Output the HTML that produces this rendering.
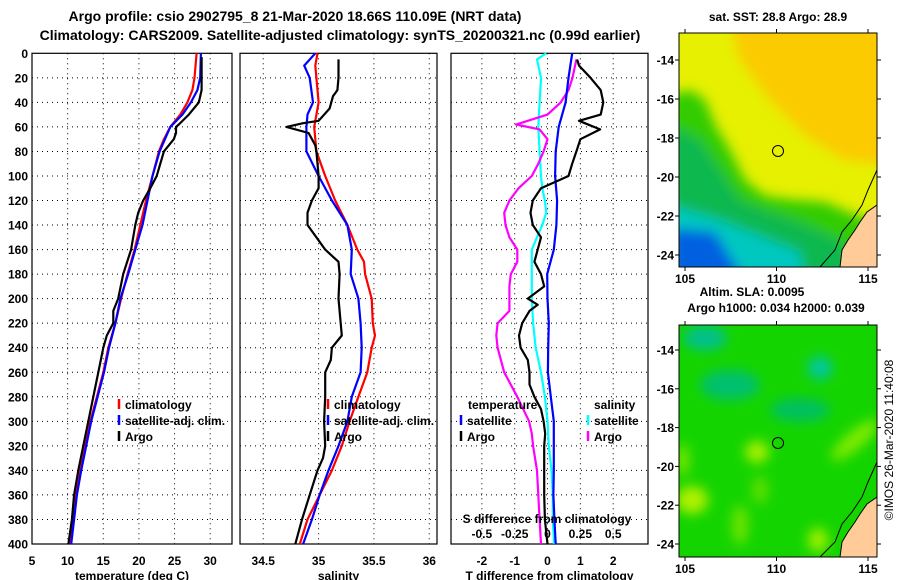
<!DOCTYPE html>
<html><head><meta charset="utf-8"><style>
body{margin:0;background:#fff;}
svg{display:block;font-family:"Liberation Sans",sans-serif;font-weight:bold;}
</style></head><body>
<svg id="fig" width="900" height="580" viewBox="0 0 900 580">
<defs>
<filter id="blur" x="-20%" y="-20%" width="140%" height="140%"><feGaussianBlur stdDeviation="6"/></filter>
<clipPath id="clipTop"><rect x="679" y="33" width="198" height="234"/></clipPath>
<clipPath id="clipBot"><rect x="679" y="325" width="198" height="232"/></clipPath>
</defs>
<text x="295" y="21" font-size="14" text-anchor="middle">Argo profile: csio 2902795_8 21-Mar-2020 18.66S 110.09E (NRT data)</text>
<text x="340" y="40" font-size="14" text-anchor="middle">Climatology: CARS2009. Satellite-adjusted climatology: synTS_20200321.nc (0.99d earlier)</text>
<g id="charts"></g>

<!-- top map -->
<g>
<text x="778" y="21" font-size="12" text-anchor="middle">sat. SST: 28.8 Argo: 28.9</text>
<g clip-path="url(#clipTop)">
<rect x="679" y="33" width="198" height="234" fill="#e6f000"/>
<g filter="url(#blur)">
<polygon points="730,20 890,20 890,165 845,160 805,135 770,100 740,60" fill="#ffc400" opacity="0.85"/>
<polygon points="670,95 690,90 705,100 715,125 730,150 745,180 765,196 795,200 825,202 855,215 890,225 890,280 670,280" fill="#30cc00"/>
<polygon points="670,125 700,140 720,170 740,200 770,212 800,222 840,240 860,280 670,280" fill="#10b850"/>
<polygon points="670,205 720,220 765,238 800,252 805,280 670,280" fill="#00c8c0"/>
<polygon points="670,228 715,232 745,280 670,280" fill="#0060e0"/>
</g>
<polygon points="877,205 867,212 860,222 855,230 848,240 842,250 840,267 877,267" fill="#ffcc99" stroke="#000" stroke-width="1"/>
<polyline points="877,170 868,190 862,205 852,220 842,232 835,250 820,267" fill="none" stroke="#000" stroke-width="1"/>
<circle cx="778" cy="151" r="5.5" fill="none" stroke="#000" stroke-width="1"/>
</g>
<rect x="679" y="33" width="198" height="234" fill="none" stroke="#000"/>
</g>

<!-- bottom map -->
<g>
<text x="752" y="296" font-size="12" text-anchor="middle">Altim. SLA: 0.0095</text>
<text x="776" y="312" font-size="12" text-anchor="middle">Argo h1000: 0.034 h2000: 0.039</text>
<g clip-path="url(#clipBot)">
<rect x="679" y="325" width="198" height="232" fill="#14d400"/>
<g filter="url(#blur)">
<ellipse cx="705" cy="338" rx="22" ry="12" fill="#00c090"/>
<ellipse cx="820" cy="368" rx="12" ry="12" fill="#00c8a0"/>
<ellipse cx="730" cy="385" rx="30" ry="15" fill="#00c070"/>
<ellipse cx="800" cy="410" rx="30" ry="12" fill="#00c060"/>
<ellipse cx="692" cy="500" rx="16" ry="14" fill="#b0f000"/>
<ellipse cx="757" cy="452" rx="12" ry="11" fill="#a8f000"/>
<ellipse cx="855" cy="440" rx="30" ry="9" fill="#80ea00" transform="rotate(-40 855 440)"/>
<ellipse cx="818" cy="540" rx="10" ry="12" fill="#a0f000"/>
<ellipse cx="740" cy="525" rx="8" ry="20" fill="#70e400"/>
<ellipse cx="760" cy="490" rx="8" ry="14" fill="#60e000"/>
<ellipse cx="683" cy="460" rx="6" ry="16" fill="#80e800"/>
</g>
<polygon points="877,497 867,504 860,514 855,522 848,532 842,542 840,557 877,557" fill="#ffcc99" stroke="#000" stroke-width="1"/>
<polyline points="877,462 868,482 862,497 852,512 842,524 835,542 820,557" fill="none" stroke="#000" stroke-width="1"/>
<circle cx="778" cy="443" r="5.5" fill="none" stroke="#000" stroke-width="1"/>
</g>
<rect x="679" y="325" width="198" height="232" fill="none" stroke="#000"/>
</g>
<g id="maptix"></g>
<text x="893" y="440" font-size="12" font-weight="normal" text-anchor="middle" transform="rotate(-90 893 440)">©IMOS 26-Mar-2020 11:40:08</text>
</svg>
<script>
// ---- data ----
const depthTicks = [0,20,40,60,80,100,120,140,160,180,200,220,240,260,280,300,320,340,360,380,400];
const tempTicks = [5,10,15,20,25,30];
const salTicks = [34.5,35,35.5,36];
const tdiffTicks = [-2,-1,0,1,2];
const sdiffTickLabels = ["-0.5","-0.25","0","0.25","0.5"];
const sdiffTickValues = [-0.5,-0.25,0,0.25,0.5];

const tClimDepth = [0,20,30,40,50,60,70,80,100,120,140,160,180,200,220,240,260,280,300,320,340,360,380,400];
const tClimVal   = [28.1,27.8,27.5,26.8,25.8,24.4,23.5,22.8,21.9,21.0,20.2,19.4,18.4,17.5,16.7,15.7,15.0,14.1,13.2,12.5,11.8,11.2,10.8,10.4];
const tSatDepth  = [0,20,30,40,50,60,80,100,120,140,160,180,200,220,240,260,280,300,320,340,360,380,400];
const tSatVal    = [28.7,28.6,28.2,27.3,26.1,24.4,22.9,21.9,21.2,20.5,19.5,18.5,17.4,16.7,15.8,15.1,14.2,13.3,12.6,11.9,11.3,10.9,10.5];
const tArgoDepth = [3,20,30,40,50,58,60,65,70,80,90,100,110,120,130,140,160,180,200,210,220,230,240,260,280,300,320,340,360,380,400];
const tArgoVal   = [28.8,28.8,28.8,28.4,27.0,25.6,25.2,25.2,24.9,23.5,23.0,22.5,21.6,20.6,19.9,19.5,18.9,17.8,17.1,16.4,16.4,15.5,15.0,14.3,13.6,12.9,12.2,11.5,10.9,10.6,10.1];

const sClimDepth = [0,10,40,60,80,100,120,140,160,170,180,200,220,230,240,260,280,300,320,340,360,380,400];
const sClimVal   = [34.99,34.97,35.0,34.96,34.98,35.06,35.15,35.26,35.35,35.41,35.42,35.48,35.49,35.51,35.48,35.44,35.36,35.28,35.21,35.12,35.01,34.9,34.83];
const sSatDepth  = [0,10,20,40,50,60,80,100,120,140,160,180,200,220,240,260,280,300,320,340,360,380,400];
const sSatVal    = [34.97,34.87,34.92,34.95,34.9,34.89,34.89,35.0,35.12,35.26,35.3,35.29,35.36,35.38,35.39,35.38,35.3,35.26,35.18,35.09,35.01,34.94,34.86];
const sArgoDepth = [5,20,30,35,45,55,57,60,65,75,80,100,110,120,130,140,150,160,170,180,200,220,230,240,250,260,280,300,320,330,340,360,380,400];
const sArgoVal   = [35.18,35.18,35.17,35.13,35.1,35.0,34.86,34.71,34.91,34.97,34.98,35.0,35.0,34.94,34.9,34.9,34.98,35.06,35.18,35.19,35.18,35.2,35.21,35.12,35.11,35.06,35.06,35.05,35.06,35.04,34.99,34.92,34.85,34.79];

const dtSatDepth = [0,20,40,60,80,100,120,140,160,180,200,220,240,260,280,300,320,340,360,380,400];
const dtSatVal   = [0.75,0.64,0.55,0.34,0.25,0.23,0.29,0.27,0.19,-0.01,0.0,0.04,0.02,0.01,0.1,0.19,0.19,0.19,0.18,0.21,0.25];
const dtArgoDepth = [5,10,20,30,40,50,55,62,70,80,90,100,110,120,130,140,150,160,170,180,190,200,205,210,220,230,240,250,260,270,280,290,300,310,320,340,360,380,400];
const dtArgoVal   = [0.9,0.96,1.31,1.62,1.7,1.62,0.96,1.6,1.0,0.88,0.75,0.64,-0.2,-0.45,-0.52,-0.45,-0.2,-0.3,-0.4,-0.2,-0.1,-0.6,-0.3,-0.55,-0.77,-0.87,-0.82,-0.6,-0.55,-0.55,-0.4,-0.2,-0.12,-0.07,-0.1,-0.1,-0.1,-0.08,0.0];
const dsSatDepth = [0,5,20,40,60,80,100,110,120,130,140,150,160,180,200,220,240,260,280,300,320,340,360,380,400];
const dsSatVal   = [-0.01,-0.08,-0.05,-0.06,-0.07,-0.06,-0.05,-0.04,-0.02,-0.01,-0.04,-0.08,-0.12,-0.12,-0.12,-0.11,-0.09,-0.05,-0.02,0.0,0.01,0.03,0.04,0.04,0.05];
const dsArgoDepth = [5,20,30,40,50,55,58,62,70,80,90,100,110,120,130,140,150,160,170,180,190,200,210,220,230,240,260,280,300,310,320,340,360,380,400];
const dsArgoVal   = [0.22,0.19,0.16,0.1,0.0,-0.15,-0.24,-0.06,0.0,-0.03,-0.07,-0.12,-0.22,-0.29,-0.33,-0.32,-0.29,-0.23,-0.23,-0.28,-0.29,-0.29,-0.29,-0.38,-0.39,-0.38,-0.33,-0.23,-0.14,-0.12,-0.11,-0.08,-0.07,-0.06,-0.05];

// ---- axes ----
const NS='http://www.w3.org/2000/svg';
const root=document.getElementById('charts');
const Y0=53.3, Y1=544, DMAX=400;
const yD=d=>Y0+d*(Y1-Y0)/DMAX;
function mk(tag,attrs,parent){const e=document.createElementNS(NS,tag);for(const k in attrs)e.setAttribute(k,attrs[k]);(parent||root).appendChild(e);return e;}
const panels=[
 {name:'temperature-panel',x0:32,x1:232,v0:5,v1:33.06,ticks:tempTicks,title:'temperature (deg C)'},
 {name:'salinity-panel',x0:240,x1:437,v0:34.29,v1:36.07,ticks:salTicks,title:'salinity'},
 {name:'difference-panel',x0:451,x1:648,v0:-2.94,v1:3.06,ticks:tdiffTicks,title:'T difference from climatology'}
];
panels.forEach(p=>{p.x=v=>p.x0+(v-p.v0)*(p.x1-p.x0)/(p.v1-p.v0);});
panels.forEach((p,i)=>{
 const g=mk('g',{});
 
 
 depthTicks.forEach(d=>{
  if(d>0&&d<400){const l=mk('line',{x1:p.x0,x2:p.x1,y1:yD(d),y2:yD(d),stroke:'#000','stroke-width':1,'stroke-dasharray':'1 4'},g);
   
   }
 });
 p.ticks.forEach(v=>{
  const x=p.x(v);
  const l=mk('line',{x1:x,x2:x,y1:Y0,y2:Y1,stroke:'#000','stroke-width':1,'stroke-dasharray':'1 4'},g);
  
  
  const t=mk('text',{x:x,y:565,'font-size':12,'text-anchor':'middle'},g);
  t.textContent=String(v);
  
  
 });
 const r=mk('rect',{x:p.x0,y:Y0,width:p.x1-p.x0,height:Y1-Y0,fill:'none',stroke:'#000','stroke-width':1.2},g);
 
 
 const tt=mk('text',{x:(p.x0+p.x1)/2,y:580,'font-size':12,'text-anchor':'middle'},g);
 tt.textContent=p.title;
 
 
});
depthTicks.forEach(d=>{
 const t=mk('text',{x:28,y:yD(d)+4.5,'font-size':12,'text-anchor':'end'});
 t.textContent=String(d);
 
 
});
function series(p,depths,vals,color,name,scale){
 const pts=depths.map((d,i)=>p.x(vals[i]*(scale||1)).toFixed(1)+','+yD(d).toFixed(1)).join(' ');
 const l=mk('polyline',{points:pts,fill:'none',stroke:color,'stroke-width':2.2,'stroke-linejoin':'round'});
 
 
}
const [P1,P2,P3]=panels;
series(P1,tClimDepth,tClimVal,'#f00','temp-climatology-line');
series(P1,tSatDepth,tSatVal,'#00f','temp-satellite-line');
series(P1,tArgoDepth,tArgoVal,'#000','temp-argo-line');
series(P2,sClimDepth,sClimVal,'#f00','sal-climatology-line');
series(P2,sSatDepth,sSatVal,'#00f','sal-satellite-line');
series(P2,sArgoDepth,sArgoVal,'#000','sal-argo-line');
series(P3,dsSatDepth,dsSatVal,'#0ff','sdiff-satellite-line',4);
series(P3,dsArgoDepth,dsArgoVal,'#f0f','sdiff-argo-line',4);
series(P3,dtSatDepth,dtSatVal,'#00f','tdiff-satellite-line');
series(P3,dtArgoDepth,dtArgoVal,'#000','tdiff-argo-line');

// S-difference secondary axis labels
const st=mk('text',{x:547,y:523,'font-size':12,'text-anchor':'middle'});
st.textContent='S difference from climatology';


sdiffTickValues.forEach((v,i)=>{
 const t=mk('text',{x:P3.x(v*4),y:538,'font-size':12,'text-anchor':'middle'});
 t.textContent=sdiffTickLabels[i];
 
 
});

// legends
function legItem(x,y,color,label){
 const m=mk('line',{x1:x,x2:x,y1:y-10,y2:y,stroke:color,'stroke-width':2.5});
 
 
 const t=mk('text',{x:x+6,y:y,'font-size':12});
 t.textContent=label;
 
 
}
[[119,P1],[328,P2]].forEach(([x])=>{
 legItem(x,409,'#f00','climatology');
 legItem(x,425,'#00f','satellite-adj. clim.');
 legItem(x,441,'#000','Argo');
});
const th=mk('text',{x:468,y:409,'font-size':12});th.textContent='temperature';


const sh=mk('text',{x:594,y:409,'font-size':12});sh.textContent='salinity';


legItem(461,425,'#00f','satellite');
legItem(461,441,'#000','Argo');
legItem(588,425,'#0ff','satellite');
legItem(588,441,'#f0f','Argo');

// map ticks
const mt=document.getElementById('maptix');
const lons=[105,110,115], lats=[-14,-16,-18,-20,-22,-24];
const lonX=lon=>685+(lon-105)*18.3;
[[33,267,60],[325,557,350]].forEach(([top,bot,y14])=>{
 const latY=lat=>y14+(-14-lat)*(bot===267?19.5:19.4);
 lons.forEach(lon=>{
  const x=lonX(lon);
  mk('line',{x1:x,x2:x,y1:top-4,y2:top,stroke:'#000'},mt);
  mk('line',{x1:x,x2:x,y1:bot,y2:bot+4,stroke:'#000'},mt);
  const t=mk('text',{x:x,y:bot+16,'font-size':12,'text-anchor':'middle'},mt);
  t.textContent=String(lon);
  
  
 });
 lats.forEach(lat=>{
  const y=latY(lat);
  mk('line',{x1:675,x2:679,y1:y,y2:y,stroke:'#000'},mt);
  mk('line',{x1:877,x2:881,y1:y,y2:y,stroke:'#000'},mt);
  const t=mk('text',{x:674,y:y+4.5,'font-size':12,'text-anchor':'end'},mt);
  t.textContent=String(lat);
  
  
 });
});
</script>
</body></html>
